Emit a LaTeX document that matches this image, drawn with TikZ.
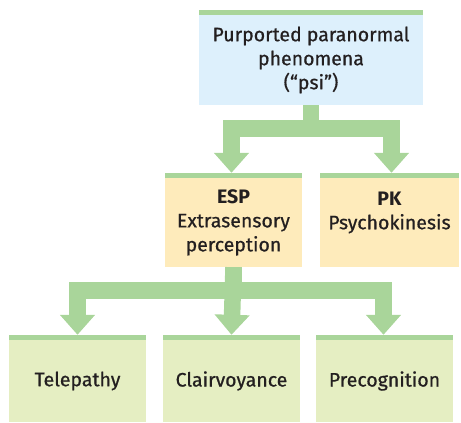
\documentclass[tikz,border=0pt]{standalone}
\usepackage{fontspec}
\setmainfont{Fira Sans}[UprightFeatures={FakeBold=0.7}]
\definecolor{psiblue}{RGB}{221,240,252}
\definecolor{espyellow}{RGB}{254,235,187}
\definecolor{leafgreen}{RGB}{229,238,194}
\definecolor{bargreen}{RGB}{169,213,154}
\definecolor{inkgray}{RGB}{35,31,32}
\usetikzlibrary{arrows.meta}

\begin{document}
\begin{tikzpicture}[x=1pt, y=-1pt,
  box/.style={minimum height=89pt, inner sep=0pt, align=center, text=inkgray,
    font=\fontsize{19.5}{24}\selectfont,
    append after command={\pgfextra{\fill[bargreen] (\tikzlastnode.north west)
      rectangle ([yshift=5pt]\tikzlastnode.north east);}}},
  leaf/.style={box, fill=leafgreen, minimum width=137pt, minimum height=82pt},
  link/.style={-{Triangle[length=20pt, width=34pt]}, bargreen, line width=16.5pt},
]
  \useasboundingbox (0,0) rectangle (461,423);
  \node[box, fill=psiblue, minimum width=224pt, minimum height=90pt] (psi) at (311,60)
    {Purported paranormal\\phenomena\\(“psi”)};
  \node[box, fill=espyellow, minimum width=137pt] (esp) at (233.5,222.5)
    {\textbf{ESP}\\Extrasensory\\perception};
  \node[box, fill=espyellow, minimum width=139pt] (pk) at (389.5,222.5)
    {\textbf{PK}\\Psychokinesis\\~};
  \node[leaf] (tele) at (77.5,381) {Telepathy};
  \node[leaf] (clair) at (231.5,381) {Clairvoyance};
  \node[leaf] (precog) at (384.5,381) {Precognition};
  \draw[link] (psi.south) -- ++(0,23.5) -| ([shift={(-2,-5)}]esp.north);
  \draw[link] (psi.south) -- ++(0,23.5) -| ([shift={(2,-5)}]pk.north);
  \draw[link] (esp.south) -- ++(0,23.5) -| ([yshift=5pt]tele.north);
  \draw[link] (esp.south) -- ([yshift=5pt]clair.north);
  \draw[link] (esp.south) -- ++(0,23.5) -| ([shift={(-1,-5)}]precog.north);
\end{tikzpicture}
\end{document}
